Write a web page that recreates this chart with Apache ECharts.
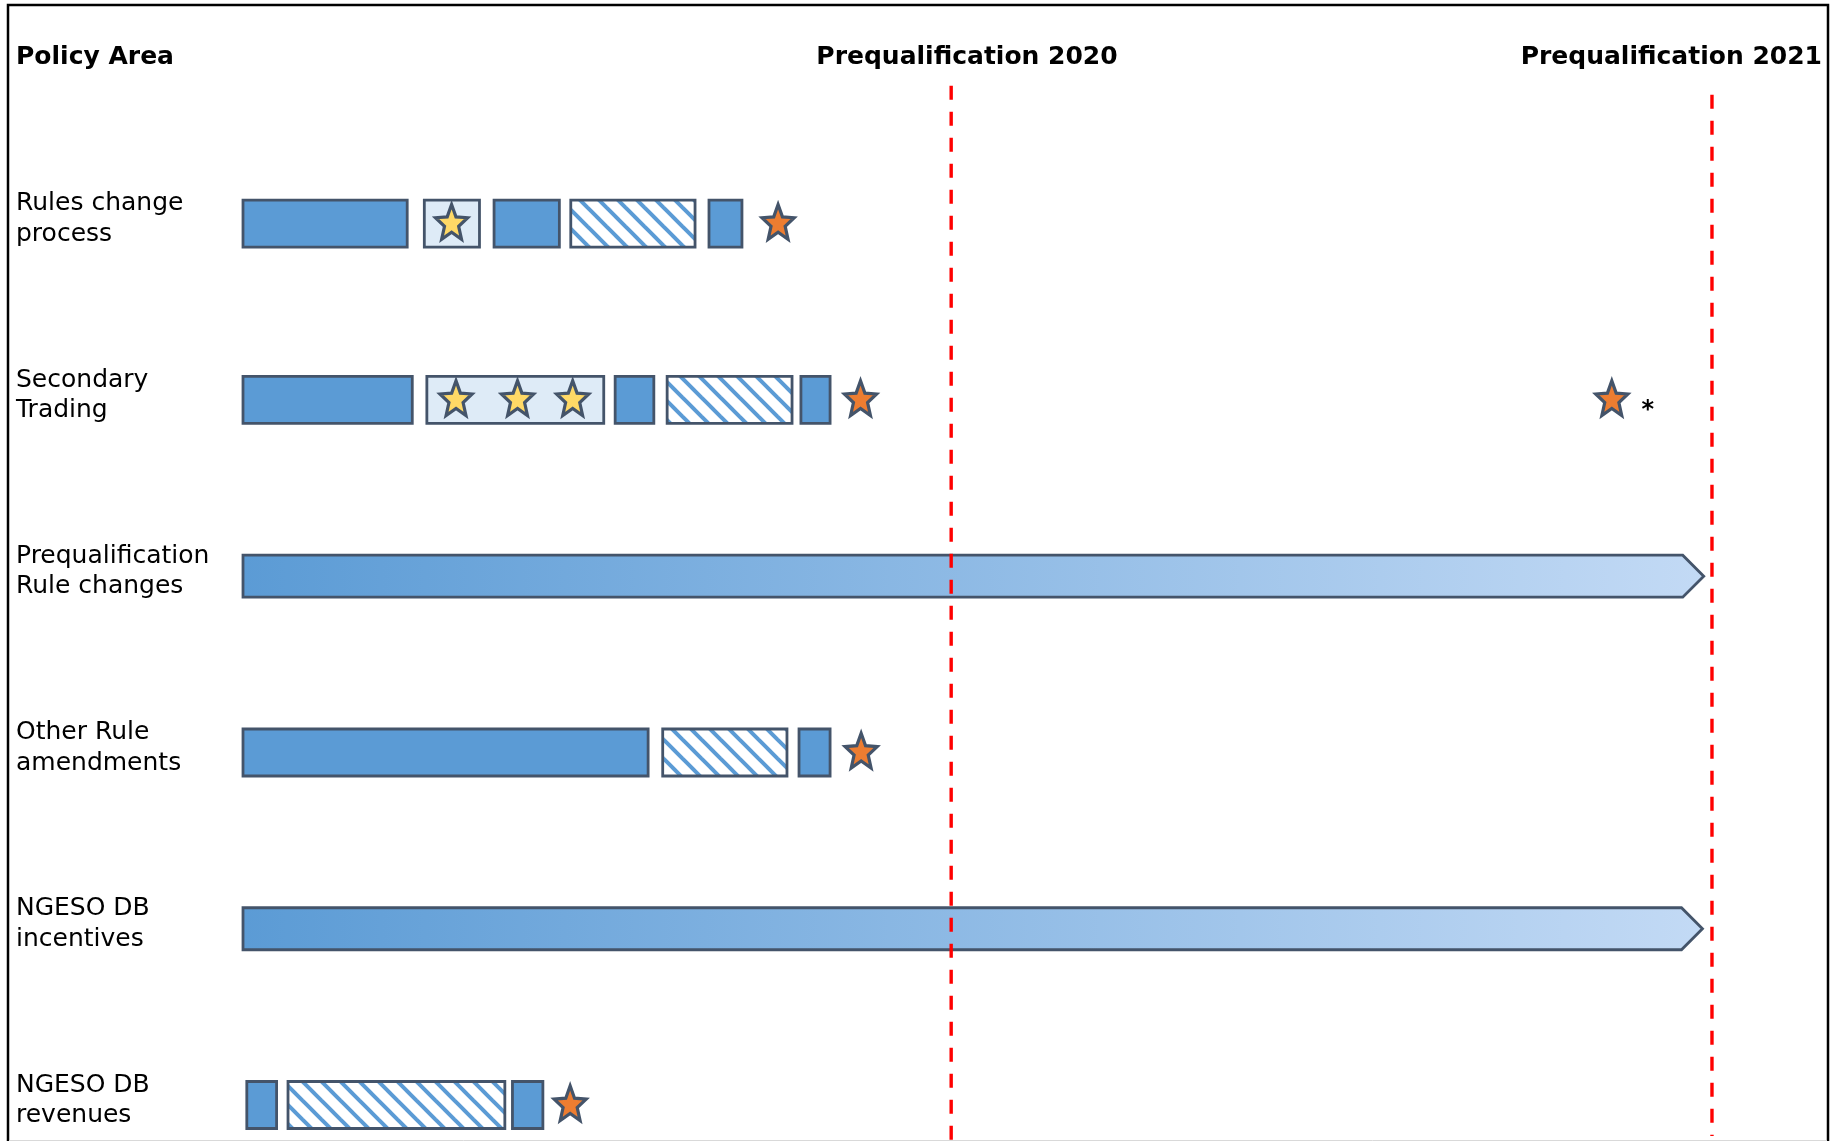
<!DOCTYPE html>
<html>
<head>
<meta charset="utf-8">
<script src="https://cdn.jsdelivr.net/npm/echarts@6/dist/echarts.min.js"></script>
<style>html,body{margin:0;padding:0;background:#fff}#c{width:1836px;height:1141px}</style>
</head>
<body>
<div id="c"></div>
<script>
// ---- data (x values in months from the start of the timeline) ----
const categories = ['Rules change\nprocess', 'Secondary\nTrading', 'Prequalification\nRule changes', 'Other Rule\namendments', 'NGESO DB\nincentives', 'NGESO DB\nrevenues'];
const solidBars = [
  [0, 0, 2.59], [0, 3.96, 4.99], [0, 7.35, 7.87],
  [1, 0, 2.67], [1, 5.87, 6.48], [1, 8.80, 9.26],
  [3, 0, 6.39], [3, 8.77, 9.26],
  [5, 0.06, 0.53], [5, 4.25, 4.73]
];
const starBoxes = [[0, 2.86, 3.73], [1, 2.90, 5.69]];
const yellowStars = [[0, 3.29], [1, 3.36], [1, 4.33], [1, 5.20]];
const hatchedBars = [[0, 5.17, 7.13], [1, 6.69, 8.66], [3, 6.62, 8.58], [5, 0.71, 4.13]];
const milestones = [[0, 8.44], [1, 9.74], [1, 21.59], [3, 9.75], [5, 5.16]];
const milestoneNotes = ['', '', '*', '', ''];
const ongoing = [[2, 0, 23.04], [4, 0, 23.02]];
const markerNames = ['Prequalification 2020', 'Prequalification 2021'];
const markerValues = [11.17, 23.17];
const headerLabel = 'Policy Area';

// ---- styles ----
const STROKE = '#44546A';
const FONT = "'DejaVu Sans', Verdana, sans-serif";

function makeHatch() {
  const s = 19, c = document.createElement('canvas');
  c.width = s; c.height = s;
  const g = c.getContext('2d');
  g.fillStyle = '#FFFFFF'; g.fillRect(0, 0, s, s);
  g.strokeStyle = '#5B9BD5'; g.lineWidth = 4.0;
  for (let k = -1; k <= 1; k++) {
    g.beginPath(); g.moveTo(k * s - 3, -3); g.lineTo(k * s + s + 3, s + 3); g.stroke();
  }
  return c;
}
const hatch = makeHatch();

function rectRender(fill, h) {
  return function (params, api) {
    const a = api.coord([api.value(1), api.value(0)]);
    const b = api.coord([api.value(2), api.value(0)]);
    return {
      type: 'rect',
      shape: { x: a[0], y: a[1] - h / 2, width: b[0] - a[0], height: h },
      style: { fill: fill, stroke: STROKE, lineWidth: 2.8 }
    };
  };
}

function arrowRender(params, api) {
  const a = api.coord([api.value(1), api.value(0)]);
  const b = api.coord([api.value(2), api.value(0)]);
  const h = 42, t = 21;
  return {
    type: 'polygon',
    shape: { points: [[a[0], a[1] - h / 2], [b[0] - t, a[1] - h / 2], [b[0], a[1]], [b[0] - t, a[1] + h / 2], [a[0], a[1] + h / 2]] },
    style: {
      fill: new echarts.graphic.LinearGradient(0, 0, 1, 0, [{ offset: 0, color: '#5B9BD5' }, { offset: 1, color: '#C3DAF5' }]),
      stroke: STROKE, lineWidth: 2.8, lineJoin: 'miter'
    }
  };
}

function starPoints(cx, cy, R, sx, ratio) {
  const pts = [], r = R * ratio;
  for (let i = 0; i < 10; i++) {
    const ang = -Math.PI / 2 + i * Math.PI / 5;
    const rad = i % 2 === 0 ? R : r;
    pts.push([cx + Math.cos(ang) * rad * sx, cy + Math.sin(ang) * rad]);
  }
  return pts;
}

function starRender(fill, notes) {
  return function (params, api) {
    const p = api.coord([api.value(1), api.value(0)]);
    const children = [{
      type: 'polygon',
      shape: { points: starPoints(p[0], p[1], 19.2, 0.88, 0.44) },
      style: { fill: fill, stroke: STROKE, lineWidth: 3.2, lineJoin: 'miter', miterLimit: 10 }
    }];
    const note = notes ? notes[params.dataIndex] : '';
    if (note) {
      children.push({
        type: 'text',
        style: { x: p[0] + 36, y: p[1] + 10.5, text: note, fill: '#000', font: 'bold 24px ' + FONT, textAlign: 'center', textVerticalAlign: 'middle' }
      });
    }
    return { type: 'group', children: children };
  };
}

function markerRender(params, api) {
  const x = api.coord([api.value(0), 0])[0];
  const cs = params.coordSys;
  const i = params.dataIndex;
  return {
    type: 'line',
    shape: { x1: x, y1: cs.y - 138 + i * 9, x2: x, y2: cs.y + cs.height + 36 - i * 5 },
    style: { stroke: '#FF0000', lineWidth: 3.4, lineDash: [14, 12] }
  };
}

const chart = echarts.init(document.getElementById('c'));
chart.setOption({
  animation: false,
  backgroundColor: '#FFFFFF',
  grid: { left: 243, right: 8, top: 223.7, bottom: 36, outerBoundsMode: 'none' },
  xAxis: { type: 'value', min: 0, max: 25, show: false },
  yAxis: {
    type: 'category', data: categories, inverse: true, boundaryGap: false,
    axisLine: { show: false }, axisTick: { show: false }, splitLine: { show: false },
    axisLabel: { show: false }
  },
  graphic: [
    { type: 'rect', shape: { x: 8, y: 5, width: 1820, height: 1150 }, style: { fill: 'none', stroke: '#000', lineWidth: 2.5 }, z: 0 },
    { type: 'line', shape: { x1: 9, y1: 1140.5, x2: 1827, y2: 1140.5 }, style: { stroke: '#D9D9D9', lineWidth: 1 }, z: 0 },
    { type: 'text', x: 16, y: 57, style: { text: headerLabel, font: 'bold 25px ' + FONT, fill: '#000', textVerticalAlign: 'middle' } },
    { type: 'text', x: 967, y: 57, style: { text: markerNames[0], font: 'bold 25px ' + FONT, fill: '#000', textAlign: 'center', textVerticalAlign: 'middle' } },
    { type: 'text', x: 1822, y: 57, style: { text: markerNames[1], font: 'bold 25px ' + FONT, fill: '#000', textAlign: 'right', textVerticalAlign: 'middle' } }
  ],
  series: [
    { type: 'custom', silent: true, renderItem: arrowRender, data: ongoing, encode: { x: [1, 2], y: 0 }, z: 2 },
    { type: 'custom', silent: true, renderItem: rectRender('#5B9BD5', 47), data: solidBars, encode: { x: [1, 2], y: 0 }, z: 2 },
    { type: 'custom', silent: true, renderItem: rectRender('#DEEBF7', 47), data: starBoxes, encode: { x: [1, 2], y: 0 }, z: 2 },
    { type: 'custom', silent: true, renderItem: rectRender({ image: hatch, repeat: 'repeat' }, 47), data: hatchedBars, encode: { x: [1, 2], y: 0 }, z: 2 },
    { type: 'custom', silent: true, renderItem: starRender('#FFD966', null), data: yellowStars, encode: { x: 1, y: 0 }, z: 3 },
    { type: 'custom', silent: true, renderItem: starRender('#ED7D31', milestoneNotes), data: milestones, encode: { x: 1, y: 0 }, z: 3 },
    { type: 'custom', silent: true, renderItem: markerRender, data: markerValues.map(v => [v]), encode: { x: 0 }, z: 4 }
  ]
});

// Row labels: one per category, placed at the category's position on the y axis
const labelEls = categories.map(function (name, i) {
  const y = chart.convertToPixel({ yAxisIndex: 0 }, i);
  return {
    type: 'text', x: 16, y: y - 4.5,
    style: { text: name, font: '25px ' + FONT, lineHeight: 30.5, fill: '#000', textVerticalAlign: 'middle' }
  };
});
chart.setOption({ graphic: chart.getOption().graphic[0].elements.concat(labelEls) });
</script>
</body>
</html>
